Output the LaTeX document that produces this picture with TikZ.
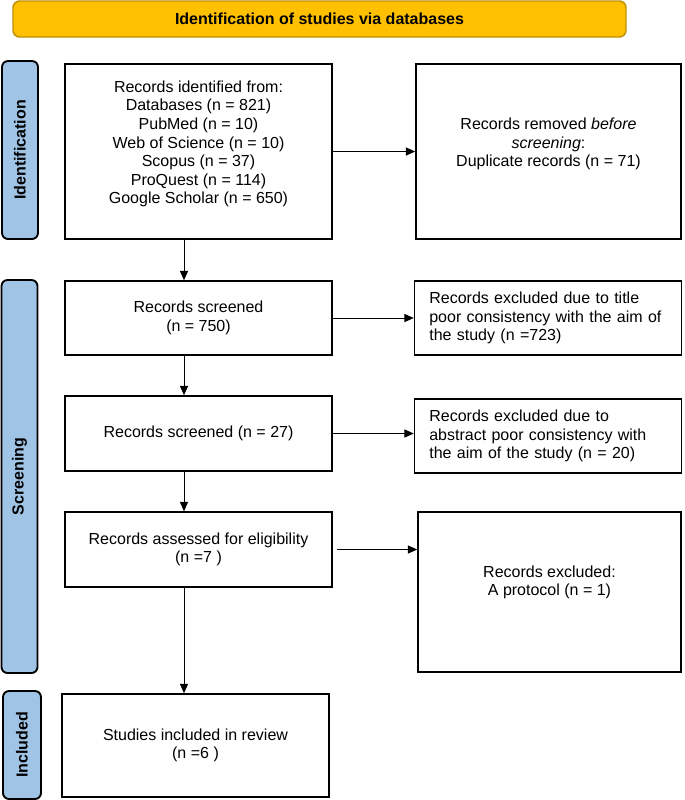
\documentclass[tikz,border=0pt]{standalone}
\usepackage{fontspec}
\setmainfont{Liberation Sans}
\usetikzlibrary{arrows.meta}

\definecolor{bannergold}{RGB}{255,192,0}
\definecolor{bannerrim}{RGB}{191,144,0}
\definecolor{phaseblue}{RGB}{160,196,230}

\tikzset{every picture/.style={line width=0.75pt}}
\tikzset{
  recbox/.style={draw, line width=1.1pt, minimum width=200.25pt, inner sep=2pt,
    align=center, font=\fontsize{12}{13.95}\selectfont},
  notebox/.style={recbox, align=left, text width=178pt, inner xsep=10.75pt},
  phasetab/.style={draw, line width=1.4pt, fill=phaseblue, rounded corners=4.5pt,
    rotate=90, minimum height=27pt, inner sep=1pt, font=\bfseries\fontsize{12}{14}\selectfont},
  flow/.style={-{Triangle[length=7pt,width=6pt]}, line width=0.75pt}
}

\begin{document}
\begin{tikzpicture}[x=0.75pt,y=0.75pt,yscale=-1,xscale=1]
\useasboundingbox (0,0) rectangle (685,800);

%Shape: Banner
\node (banner) [draw=bannerrim, line width=1.1pt, fill=bannergold, rounded corners=5pt,
  minimum width=459.75pt, minimum height=27pt, font=\bfseries\fontsize{12}{14}\selectfont]
  at (319.5,19) {Identification of studies via databases};

%Shape: Phase tabs
\node (tabident) [phasetab, minimum width=133.5pt] at (20,150) {Identification};
\node (tabscreen) [phasetab, minimum width=294.75pt] at (19.5,476.5) {Screening};
\node (tabincl) [phasetab, minimum width=81pt, minimum height=28.5pt] at (22,745) {Included};

%Shape: Record boxes
\node (records) [recbox, minimum height=131.25pt, text depth=13.7pt] at (198.5,151.5)
  {Records identified from:\\ Databases (n = 821)\\ PubMed (n = 10)\\ Web of Science (n = 10)\\
   Scopus (n = 37)\\ ProQuest (n = 114)\\ Google Scholar (n = 650)};
\node (removed) [recbox, minimum width=198.75pt, minimum height=131.25pt, text depth=13.7pt] at (548.5,151.5)
  {Records removed \emph{before}\\ \emph{screening}:\\ Duplicate records (n = 71)};
\node (screened) [recbox, minimum height=55.5pt] at (198.5,318)
  {Records screened\\ (n = 750)};
\node (excltitle) [notebox, minimum height=55.5pt] at (548,318)
  {Records excluded due to title\\ poor consistency with the aim of\\ the study (n =723)};
\node (screened2) [recbox, minimum height=56.25pt] at (198.5,433.5)
  {Records screened (n = 27)};
\node (exclabs) [notebox, minimum height=55.5pt] at (548,436)
  {Records excluded due to\\ abstract poor consistency with\\ the aim of the study (n = 20)};
\node (assessed) [recbox, minimum height=56.25pt] at (198.5,549.5)
  {Records assessed for eligibility\\ (n =7 )};
\node (protocol) [recbox, minimum width=197.25pt, minimum height=120pt, text depth=16.7pt] at (549.5,592)
  {Records excluded:\\ A protocol (n = 1)};
\node (included) [recbox, minimum height=77.25pt] at (195.5,745.5)
  {Studies included in review\\ (n =6 )};

%Straight Lines
\coordinate (spine) at (184,0);
\draw [flow] (records.south -| spine) -- (screened.north -| spine);
\draw [flow] (screened.south -| spine) -- (screened2.north -| spine);
\draw [flow] (screened2.south -| spine) -- (assessed.north -| spine);
\draw [flow] (assessed.south -| spine) -- (included.north -| spine);

\draw [flow] (records.east) -- (records.east -| removed.west);
\draw [flow] (screened.east) -- (screened.east -| excltitle.west);
\draw [flow] (screened2.east) -- (screened2.east -| exclabs.west);
\draw [flow, shorten <=3pt] (assessed.east) -- (assessed.east -| protocol.west);

\end{tikzpicture}
\end{document}
